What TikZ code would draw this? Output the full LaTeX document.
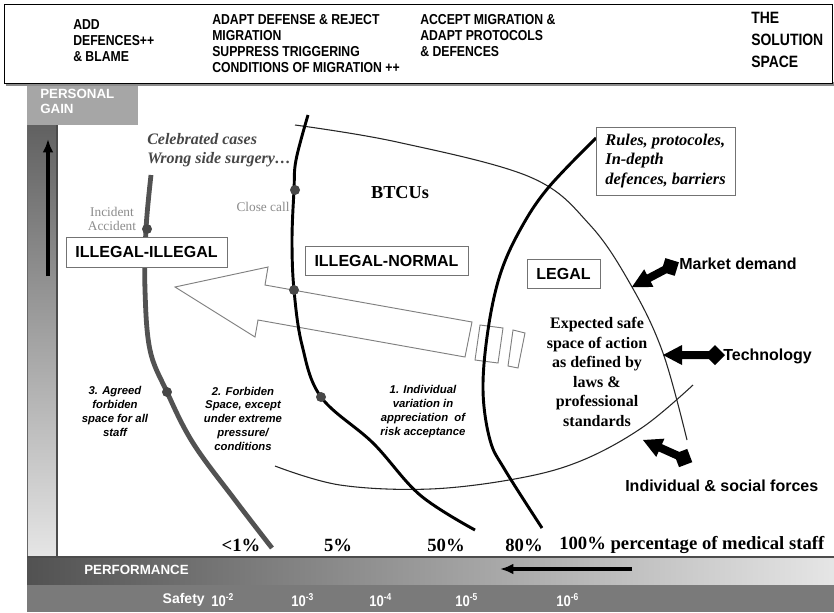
\documentclass[tikz,border=0pt]{standalone}
\usepackage{fontspec}
\setmainfont{Liberation Serif}
\setsansfont{Liberation Sans}
\newfontfamily\narrowsf[FakeStretch=0.85]{Liberation Sans}
\newcommand\tenexp[1]{10\raisebox{0.42em}{\fontsize{7.5}{8}\selectfont #1}}
\usetikzlibrary{arrows.meta}
\begin{document}
\begin{tikzpicture}[x=0.75pt,y=-0.75pt,
  toptext/.style={font=\narrowsf\bfseries\fontsize{10.8}{12}\selectfont, align=left, anchor=north west, inner sep=0pt},
  bartext/.style={font=\sffamily\bfseries\fontsize{10}{11.25}\selectfont, text=white, align=left, inner sep=0pt},
  zonebox/.style={draw=black!55, line width=0.7pt, fill=white, font=\sffamily\bfseries\fontsize{12}{14}\selectfont, inner sep=0pt},
  zonetext/.style={font=\sffamily\bfseries\itshape\fontsize{8.5}{10.3}\selectfont, align=center, inner sep=0pt},
  forcelabel/.style={font=\sffamily\bfseries\fontsize{12}{14}\selectfont, anchor=west, inner sep=0pt},
  pct/.style={font=\bfseries\fontsize{14}{16}\selectfont, inner sep=0pt},
  dotm/.style={circle, fill=black!72, inner sep=0pt, minimum size=7.5pt},
  graynote/.style={font=\fontsize{10}{10.5}\selectfont, text=black!45, align=center, inner sep=0pt},
  hollow/.style={draw=black!50, line width=0.7pt, fill=white},
  thinline/.style={line width=0.8pt, black!85},
  boldcurve/.style={line width=2.2pt, black},
  graycurve/.style={line width=3.6pt, black!68},
  saftext/.style={font=\narrowsf\bfseries\fontsize{11.5}{12}\selectfont, text=white, anchor=west, inner sep=0pt},
  pics/forcearrow/.style={code={
    \fill[black] (0,0) -- (19,-10) -- (19,-4) -- (#1-6,-4) -- (#1-6,4) -- (19,4) -- (19,10) -- cycle;
    \fill[black] (#1-10,0) -- (#1,-10) -- (#1+10,0) -- (#1,10) -- cycle;
  }}
]
\useasboundingbox (0,0) rectangle (834,612);
\fill[white] (0,0) rectangle (834,612);

% ---------- top box ----------
\fill[black!45] (6,82) rectangle (834,86);
\draw[black, line width=0.7pt, fill=white] (4,4) rectangle (832,83);
\node[toptext] (t1) at (73,19) {ADD\\DEFENCES++\\\& BLAME};
\node[toptext] (t2) at (212,14) {ADAPT DEFENSE \& REJECT\\MIGRATION\\SUPPRESS TRIGGERING\\CONDITIONS OF MIGRATION ++};
\node[toptext] (t3) at (420,14) {ACCEPT MIGRATION \&\\ADAPT PROTOCOLS\\\& DEFENCES};
\node[toptext, font=\narrowsf\bfseries\fontsize{12.3}{16.5}\selectfont] (t4) at (751,12) {THE\\SOLUTION\\SPACE};

% ---------- axes bars ----------
\shade[top color=black!62, bottom color=black!10] (27,125) rectangle (56,557);
\draw[black!70, line width=0.8pt] (57,125) -- (57,557);
\draw[black!60, line width=0.6pt] (27,125) -- (27,557);
\fill[black!35] (27,86) rectangle (138,125);
\node[bartext, anchor=north west] (pg) at (40,88.5) {PERSONAL\\GAIN};
\coordinate (upbot) at (48,276);
\coordinate (uptop) at (48,139);
\draw[black, line width=2.4pt, -{Latex[length=10pt,width=8pt]}] (upbot) -- (uptop);

\shade[left color=black!68, right color=black!10] (27,557) rectangle (834,585);
\fill[black!52] (27,585) rectangle (834,612);
\draw[black!70, line width=0.8pt] (27,557) -- (834,557);
\node[bartext, anchor=west] (perf) at (84,570) {PERFORMANCE};
\coordinate (pfa) at (632,569);
\coordinate (pfb) at (500,569);
\draw[black, line width=2.4pt, -{Latex[length=10pt,width=8pt]}] (pfa) -- (pfb);

\node[bartext, anchor=east, font=\sffamily\bfseries\fontsize{10.5}{11}\selectfont] (saf) at (205,600) {Safety};
\node[saftext] (s2) at (211,600) {\tenexp{-2}};
\node[saftext] (s3) at (291,600) {\tenexp{-3}};
\node[saftext] (s4) at (369,600) {\tenexp{-4}};
\node[saftext] (s5) at (455,600) {\tenexp{-5}};
\node[saftext] (s6) at (556,600) {\tenexp{-6}};

% ---------- thin curves ----------
\draw[thinline] plot[smooth, tension=0.6] coordinates {(295,125) (397,142) (530,177) (590,225) (632,287) (663,353) (687,440)};
\draw[thinline] plot[smooth, tension=0.6] coordinates {(275,466) (340,485) (430,489) (520,478) (583,460) (643,427) (693,385)};

% ---------- big hollow arrow ----------
\draw[hollow, line join=miter] (175,287) -- (268,267) -- (265,285) -- (472,322) -- (465,357) -- (258,320) -- (255,337) -- cycle;
\draw[hollow] (480,325) -- (503,328) -- (498,363) -- (475,360) -- cycle;
\draw[hollow] (513,330) -- (525,333) -- (518,368) -- (508,366) -- cycle;

% ---------- main curves ----------
\draw[graycurve] plot[smooth, tension=0.6] coordinates {(151,175) (146,229) (145,290) (150,350) (167,392) (193,443) (235,500) (272,548)};
\draw[boldcurve] plot[smooth, tension=0.6] coordinates {(308,115) (296,160) (294,190) (292,240) (294,290) (302,345) (321,397) (373,443) (420,495) (475,530)};
\draw[boldcurve] plot[smooth, tension=0.6] coordinates {(596,138) (548,188) (520,230) (500,275) (488,330) (483,390) (490,440) (505,470) (542,528)};

% ---------- dots ----------
\node[dotm] (d1) at (147,229) {};
\node[dotm] (d2) at (167,392) {};
\node[dotm] (d3) at (295,190) {};
\node[dotm] (d4) at (294,290) {};
\node[dotm] (d5) at (321,397) {};

% ---------- zone boxes ----------
\node[zonebox, minimum width=120.75pt, minimum height=22.5pt] (ii) at (146.5,252) {ILLEGAL-ILLEGAL};
\node[zonebox, minimum width=122.25pt, minimum height=21.75pt] (in) at (386.5,260.5) {ILLEGAL-NORMAL};
\node[zonebox, minimum width=54.75pt, minimum height=21.75pt] (lg) at (563.5,273.5) {LEGAL};
\node[zonebox, minimum width=104.25pt, minimum height=51pt, align=left, font=\bfseries\itshape\fontsize{12.3}{14.3}\selectfont] (rules) at (665.5,161) {Rules, protocoles,\\In-depth\\defences, barriers};

% ---------- texts ----------
\node[font=\bfseries\itshape\fontsize{12}{14.2}\selectfont, text=black!72, align=left, anchor=west, inner sep=0pt] (cel) at (147,150) {Celebrated cases\\Wrong side surgery…};
\node[graynote] (inc) at (112,219) {Incident\\Accident};
\node[graynote] (cc) at (263,207) {Close call};
\node[font=\bfseries\fontsize{13.7}{16}\selectfont, inner sep=0pt] (btcu) at (400,193) {BTCUs};
\node[zonetext] (z3) at (115,411.5) {3. Agreed\\forbiden\\space for all\\staff};
\node[zonetext] (z2) at (243,418.5) {2. Forbiden\\Space, except\\under extreme\\pressure/\\conditions};
\node[zonetext] (z1) at (423,411.5) {1. Individual\\variation in\\appreciation~ of\\risk acceptance};
\node[font=\bfseries\fontsize{12}{14.7}\selectfont, align=center, inner sep=0pt] (exp) at (597,372) {Expected safe\\space of action\\as defined by\\laws \&\\professional\\standards};

% ---------- forces ----------
\pic[rotate=27.8] at (632,287) {forcearrow=43};
\pic at (663,355) {forcearrow=52};
\pic[rotate=-24.2] at (643,440) {forcearrow=44};
\node[forcelabel] (md) at (679,264) {Market demand};
\node[forcelabel] (tech) at (723,356) {Technology};
\node[forcelabel] (isf) at (625,486) {Individual \& social forces};

% ---------- percentages ----------
\node[pct] (p1) at (241,545) {<1\%};
\node[pct] (p2) at (338,545) {5\%};
\node[pct] (p3) at (446,545) {50\%};
\node[pct] (p4) at (524,545) {80\%};
\node[pct, anchor=west] (p5) at (559,545) {100\% percentage of medical staff};
\end{tikzpicture}
\end{document}
